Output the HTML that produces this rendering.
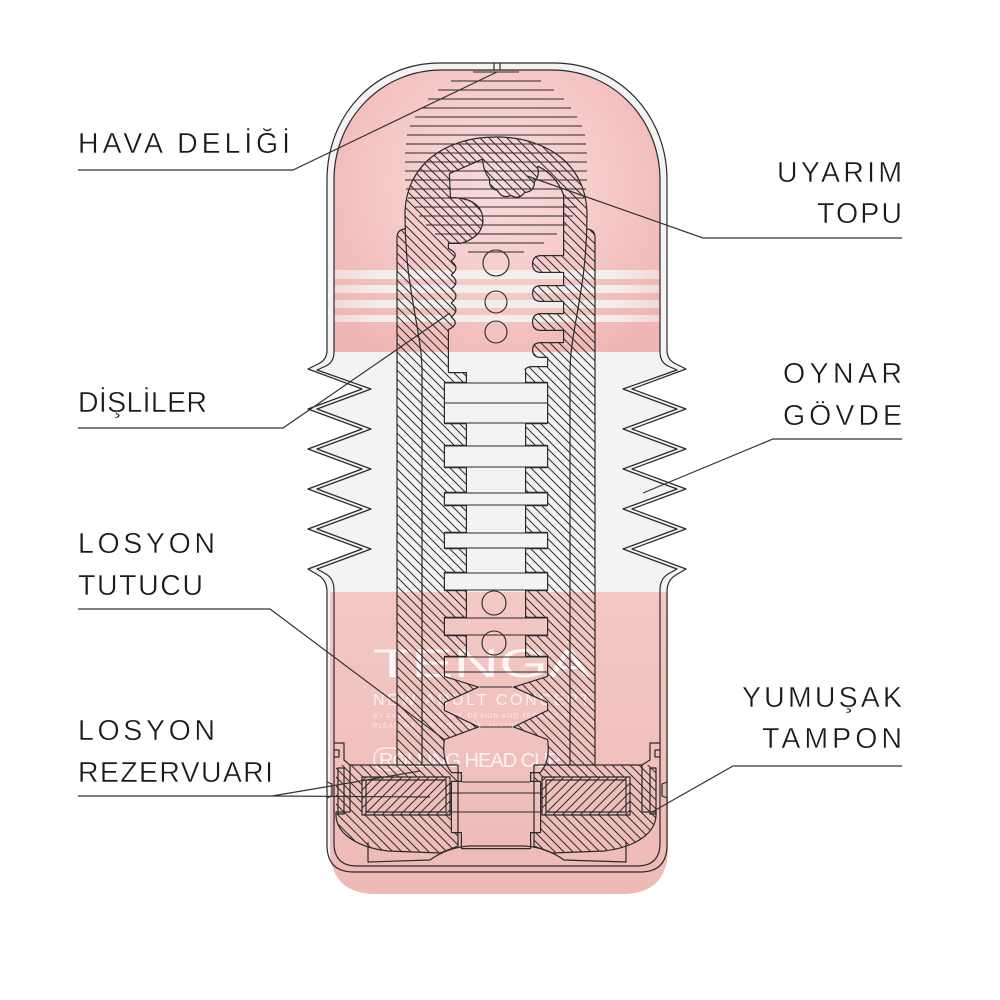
<!DOCTYPE html>
<html><head><meta charset="utf-8">
<style>html,body{margin:0;padding:0;background:#fff}svg{display:block}</style>
</head><body>
<svg width="1000" height="1000" viewBox="0 0 1000 1000" xmlns="http://www.w3.org/2000/svg" xmlns:xlink="http://www.w3.org/1999/xlink">
<defs>
  <pattern id="h" width="9" height="9" patternUnits="userSpaceOnUse">
    <path d="M0,0 L9,9 M-1,8 L1,10 M8,-1 L10,1" stroke="#2e2e2e" stroke-width="1"/>
  </pattern>
  <pattern id="h2" width="9" height="9" patternUnits="userSpaceOnUse">
    <path d="M0,9 L9,0 M-1,1 L1,-1 M8,10 L10,8" stroke="#2e2e2e" stroke-width="1"/>
  </pattern>
  <radialGradient id="capg" cx="497" cy="185" r="200" gradientUnits="userSpaceOnUse">
    <stop offset="0" stop-color="#f8dbda"/>
    <stop offset="0.55" stop-color="#f5c9c8"/>
    <stop offset="1" stop-color="#f0b6b4"/>
  </radialGradient>
  <linearGradient id="lowg" x1="0" y1="590" x2="0" y2="895" gradientUnits="userSpaceOnUse">
    <stop offset="0" stop-color="#f3c8c5"/>
    <stop offset="1" stop-color="#eebab6"/>
  </linearGradient>
  <linearGradient id="stripeg" x1="334" y1="0" x2="660" y2="0" gradientUnits="userSpaceOnUse">
    <stop offset="0" stop-color="#f2f0f0" stop-opacity="0.6"/>
    <stop offset="0.15" stop-color="#f2f0f0" stop-opacity="0.95"/>
    <stop offset="0.85" stop-color="#f2f0f0" stop-opacity="0.95"/>
    <stop offset="1" stop-color="#f2f0f0" stop-opacity="0.6"/>
  </linearGradient>

  <g id="canal">
    <path d="M450,174 L482,160 Q483,172 489,179 Q488,189 497,191 Q502,200 511,196 Q519,201 525,193 Q535,192 535,182 Q541,175 538,167 Q556,176 563,195 L563,246 L449,246 Q471,244 480,232 Q487,220 480,208 Q472,197 451,197 Z"/>
    <path d="M449,244 L563,244 L563,255 L541,255 Q532,255 532,264 Q532,273 541,273 L563,273 L563,285 L541,285 Q532,285 532,293 Q532,302 541,302 L563,302 L563,313 L541,313 Q532,313 532,322 Q532,331 541,331 L563,331 L563,342 L541,342 Q532,342 532,350 Q532,358 541,358 L547,358 L547,366 L533,366 Q524,366 524,372 L449,372 L449,330 Q461,324 452,317 Q461,310 452,303 Q461,296 452,289 Q461,282 452,275 Q461,268 452,261 Q461,254 449,248 Z"/>
    <rect x="467" y="370" width="58" height="306"/>
    <rect x="445" y="383" width="102" height="40"/>
    <rect x="445" y="446" width="102" height="21"/>
    <rect x="445" y="493" width="102" height="12"/>
    <rect x="445" y="533" width="102" height="15"/>
    <rect x="445" y="573" width="102" height="17"/>
    <rect x="445" y="618" width="102" height="17"/>
    <rect x="445" y="657" width="102" height="15"/>
    <path d="M445,672 L547,672 L547,676 L512,687 L547,703 L547,710 L512,727 L547,740 Q550,760 540,772 L530,772 L530,782 L540,782 L540,832 L530,832 L530,848 L462,848 L462,832 L452,832 L452,782 L462,782 L462,772 L452,772 Q442,760 445,740 L480,727 L445,710 L445,703 L480,687 L445,676 Z"/>
  </g>

  <mask id="hm" maskUnits="userSpaceOnUse" x="0" y="0" width="1000" height="1000">
    <path fill="#fff" d="M397,765 L397,238 Q397,229 406,229 L405,215 C405,165 445,137 496,137 C547,137 587,165 587,215 L586,229 Q595,229 595,238 L595,765 Z"/>
    <path fill="#fff" d="M336,765 L458,765 L458,846 L440,853 L388,851 Q362,848 347,836 Q335,826 336,812 Z"/>
    <path fill="#fff" d="M656,765 L534,765 L534,846 L552,853 L604,851 Q630,848 645,836 Q657,826 656,812 Z"/>
    <use xlink:href="#canal" fill="#000"/>
    <rect x="362" y="777" width="88" height="38" fill="#000"/>
    <rect x="542" y="777" width="88" height="38" fill="#000"/>
  </mask>
  <mask id="om" maskUnits="userSpaceOnUse" x="0" y="0" width="1000" height="1000">
    <rect width="1000" height="1000" fill="#fff"/>
    <use xlink:href="#canal" fill="#000"/>
  </mask>
</defs>

<!-- shell fill -->
<path fill="#f4f3f3" d="M440,63 L554,63 C619,63 667,115 667,180 L667,350 Q667,360 676,364 L686,369 L632,389 L686,409 L632,429 L686,449 L632,469 L686,489 L632,509 L686,529 L632,549 L686,569 L676,575 Q667,580 667,592 L667,845 Q667,872 640,872 L354,872 Q327,872 327,845 L327,592 Q327,580 318,575 L308,569 L362,549 L308,529 L362,509 L308,489 L362,469 L308,449 L362,429 L308,409 L362,389 L308,369 L318,364 Q327,360 327,350 L327,180 C327,115 375,63 440,63 Z"/>
<!-- cap pink -->
<path fill="url(#capg)" d="M334,352 L334,180 C334,120 380,70 442,70 L552,70 C614,70 660,120 660,180 L660,352 Z"/>
<g fill="url(#stripeg)">
  <rect x="334" y="270" width="326" height="9"/>
  <rect x="334" y="285" width="326" height="8"/>
  <rect x="334" y="300" width="326" height="8"/>
  <rect x="334" y="315" width="326" height="7"/>
</g>
<!-- lower pink -->
<path fill="url(#lowg)" d="M330,592 L668,592 L668,848 Q668,894 622,894 L376,894 Q330,894 330,848 Z"/>

<!-- logo text -->
<g font-family="Liberation Sans, sans-serif" fill="#fff">
  <text x="373" y="677" font-size="40" textLength="217" lengthAdjust="spacingAndGlyphs" opacity="0.85">TENGA</text>
  <text x="373" y="705" font-size="16" textLength="217" lengthAdjust="spacing" opacity="0.75">NEW ADULT CONCEPT</text>
  <text x="373" y="718" font-size="7" textLength="205" lengthAdjust="spacing" opacity="0.6">BY AVANT-GARDE ART, DESIGN AND TECHNOLOGY</text>
  <text x="373" y="728" font-size="7" textLength="150" lengthAdjust="spacing" opacity="0.6">PLEASURE FOR EVERYONE, ANYTIME</text>
  <text x="379" y="767" font-size="20" textLength="182" lengthAdjust="spacing" opacity="0.8">ROLLING HEAD CUP</text>
</g>
<rect x="374" y="748" width="28" height="22" rx="10" fill="none" stroke="#fff" stroke-width="1.5" opacity="0.7"/>

<!-- hatching -->
<rect width="1000" height="1000" fill="url(#h)" mask="url(#hm)"/>
<rect x="362" y="777" width="88" height="38" fill="url(#h2)"/>
<rect x="542" y="777" width="88" height="38" fill="url(#h2)"/>

<g fill="none" stroke="#2a2a2a" stroke-width="1.2" stroke-linejoin="round">
  <path d="M440,63 L554,63 C619,63 667,115 667,180 L667,350 Q667,360 676,364 L686,369 L632,389 L686,409 L632,429 L686,449 L632,469 L686,489 L632,509 L686,529 L632,549 L686,569 L676,575 Q667,580 667,592 L667,845 Q667,872 640,872 L354,872 Q327,872 327,845 L327,592 Q327,580 318,575 L308,569 L362,549 L308,529 L362,509 L308,489 L362,469 L308,449 L362,429 L308,409 L362,389 L308,369 L318,364 Q327,360 327,350 L327,180 C327,115 375,63 440,63 Z"/>
  <path d="M442,70 L552,70 C614,70 660,120 660,180 L660,352 Q660,362 668,366 L677,370 L623,389 L677,409 L623,429 L677,449 L623,469 L677,489 L623,509 L677,529 L623,549 L677,569 L668,574 Q660,579 660,590 L660,843 Q660,866 637,866 L357,866 Q334,866 334,843 L334,590 Q334,579 326,574 L317,569 L371,549 L317,529 L371,509 L317,489 L371,469 L317,449 L371,429 L317,409 L371,389 L317,370 L326,366 Q334,362 334,352 L334,180 C334,120 380,70 442,70 Z"/>
  <path d="M494,63 L494,70 M500,63 L500,70"/>

  <path d="M397,765 L397,238 Q397,229 406,229 M422,372 L422,765 L397,765"/>
  <path d="M595,765 L595,238 Q595,229 586,229 M570,372 L570,765 L595,765"/>
  <path d="M422,372 C422,330 405,290 405,215 C405,165 445,137 496,137 C547,137 587,165 587,215 C587,290 570,330 570,372"/>
  <path d="M350,765 L397,765 M422,765 L458,765 L458,846 L440,853 L388,851 Q362,848 347,836 Q335,826 336,812 L350,812 L350,765"/>
  <path d="M642,765 L595,765 M570,765 L534,765 L534,846 L552,853 L604,851 Q630,848 645,836 Q657,826 656,812 L642,812 L642,765"/>
  <path d="M334,743 L344,743 L344,760 L350,765"/>
  <rect x="338" y="768" width="6" height="46"/>
  <path d="M334,750 L339,750 L339,757 L334,757"/>
  <path d="M327,782 L332,784 L332,796 L327,798"/>
  <path d="M660,743 L650,743 L650,760 L642,765"/>
  <rect x="650" y="768" width="6" height="46"/>
  <path d="M660,750 L655,750 L655,757 L660,757"/>
  <path d="M667,782 L662,784 L662,796 L667,798"/>
  <rect x="362" y="777" width="88" height="38"/>
  <rect x="366" y="780" width="80" height="32"/>
  <rect x="542" y="777" width="88" height="38"/>
  <rect x="546" y="780" width="80" height="32"/>
  <path d="M368,842 L368,862 L430,860 Q448,847 470,846 L524,846 Q546,847 564,860 L626,862 L626,842"/>
</g>

<g mask="url(#om)">
  <use xlink:href="#canal" fill="none" stroke="#2a2a2a" stroke-width="2.4" stroke-linejoin="round"/>
</g>

<g fill="none" stroke="#2a2a2a" stroke-width="1.1">
  <path d="M445,383 H547 M445,403 H547 M445,423 H547 M445,446 H547 M445,467 H547 M445,493 H547 M445,505 H547 M445,533 H547 M445,548 H547 M445,573 H547 M445,590 H547 M445,618 H547 M445,635 H547 M445,657 H547 M445,672 H547"/>
  <path d="M480,687 H512 M480,727 H512 M452,793 H540 M452,812 H540 M462,782 H530"/>
  <circle cx="496" cy="263" r="13"/>
  <circle cx="496" cy="302" r="11"/>
  <circle cx="496" cy="332" r="11"/>
  <circle cx="494" cy="603" r="12"/>
  <circle cx="494" cy="643" r="12"/>
</g>

<g stroke="#2a2a2a" stroke-width="1.1">
  <path d="M473,72 H519 M451,81 H541 M438,90 H554 M428,99 H564 M421,108 H571 M415,117 H577 M410,126 H582 M407,135 H585 M406,144 H586 M405,153 H587 M405,162 H587 M405,171 H587 M405,180 H587 M406,189 H586 M408,198 H584 M415,207 H577 M419,216 H573 M426,225 H566 M435,234 H557 M448,243 H544 M468,252 H524"/>
</g>

<g fill="none" stroke="#333" stroke-width="1.2">
  <path d="M78,170 L293,170 L497,72"/>
  <path d="M78,428 L283,428 L450,313"/>
  <path d="M78,609 L270,609 L445,740"/>
  <path d="M78,796 L272,796 L420,771 M272,796 L430,797"/>
  <path d="M902,238 L703,238 L527,176"/>
  <path d="M902,439 L773,439 L643,493"/>
  <path d="M902,766 L733,766 L652,812"/>
</g>

<g font-family="Liberation Sans, sans-serif" font-size="28.5" fill="#1a1a1a" stroke="#fff" stroke-width="0.4">
  <text x="78" y="153" textLength="212" lengthAdjust="spacing">HAVA DELİĞİ</text>
  <text x="78" y="412" textLength="129" lengthAdjust="spacing">DİŞLİLER</text>
  <text x="78" y="553" textLength="137" lengthAdjust="spacing">LOSYON</text>
  <text x="78" y="595" textLength="125" lengthAdjust="spacing">TUTUCU</text>
  <text x="78" y="740" textLength="137" lengthAdjust="spacing">LOSYON</text>
  <text x="78" y="782" textLength="195" lengthAdjust="spacing">REZERVUARI</text>
  <text x="777" y="182" textLength="125" lengthAdjust="spacing">UYARIM</text>
  <text x="817" y="223" textLength="85" lengthAdjust="spacing">TOPU</text>
  <text x="783" y="383" textLength="119" lengthAdjust="spacing">OYNAR</text>
  <text x="783" y="425" textLength="119" lengthAdjust="spacing">GÖVDE</text>
  <text x="742" y="707" textLength="160" lengthAdjust="spacing">YUMUŞAK</text>
  <text x="762" y="748" textLength="140" lengthAdjust="spacing">TAMPON</text>
</g>
</svg>
</body></html>
